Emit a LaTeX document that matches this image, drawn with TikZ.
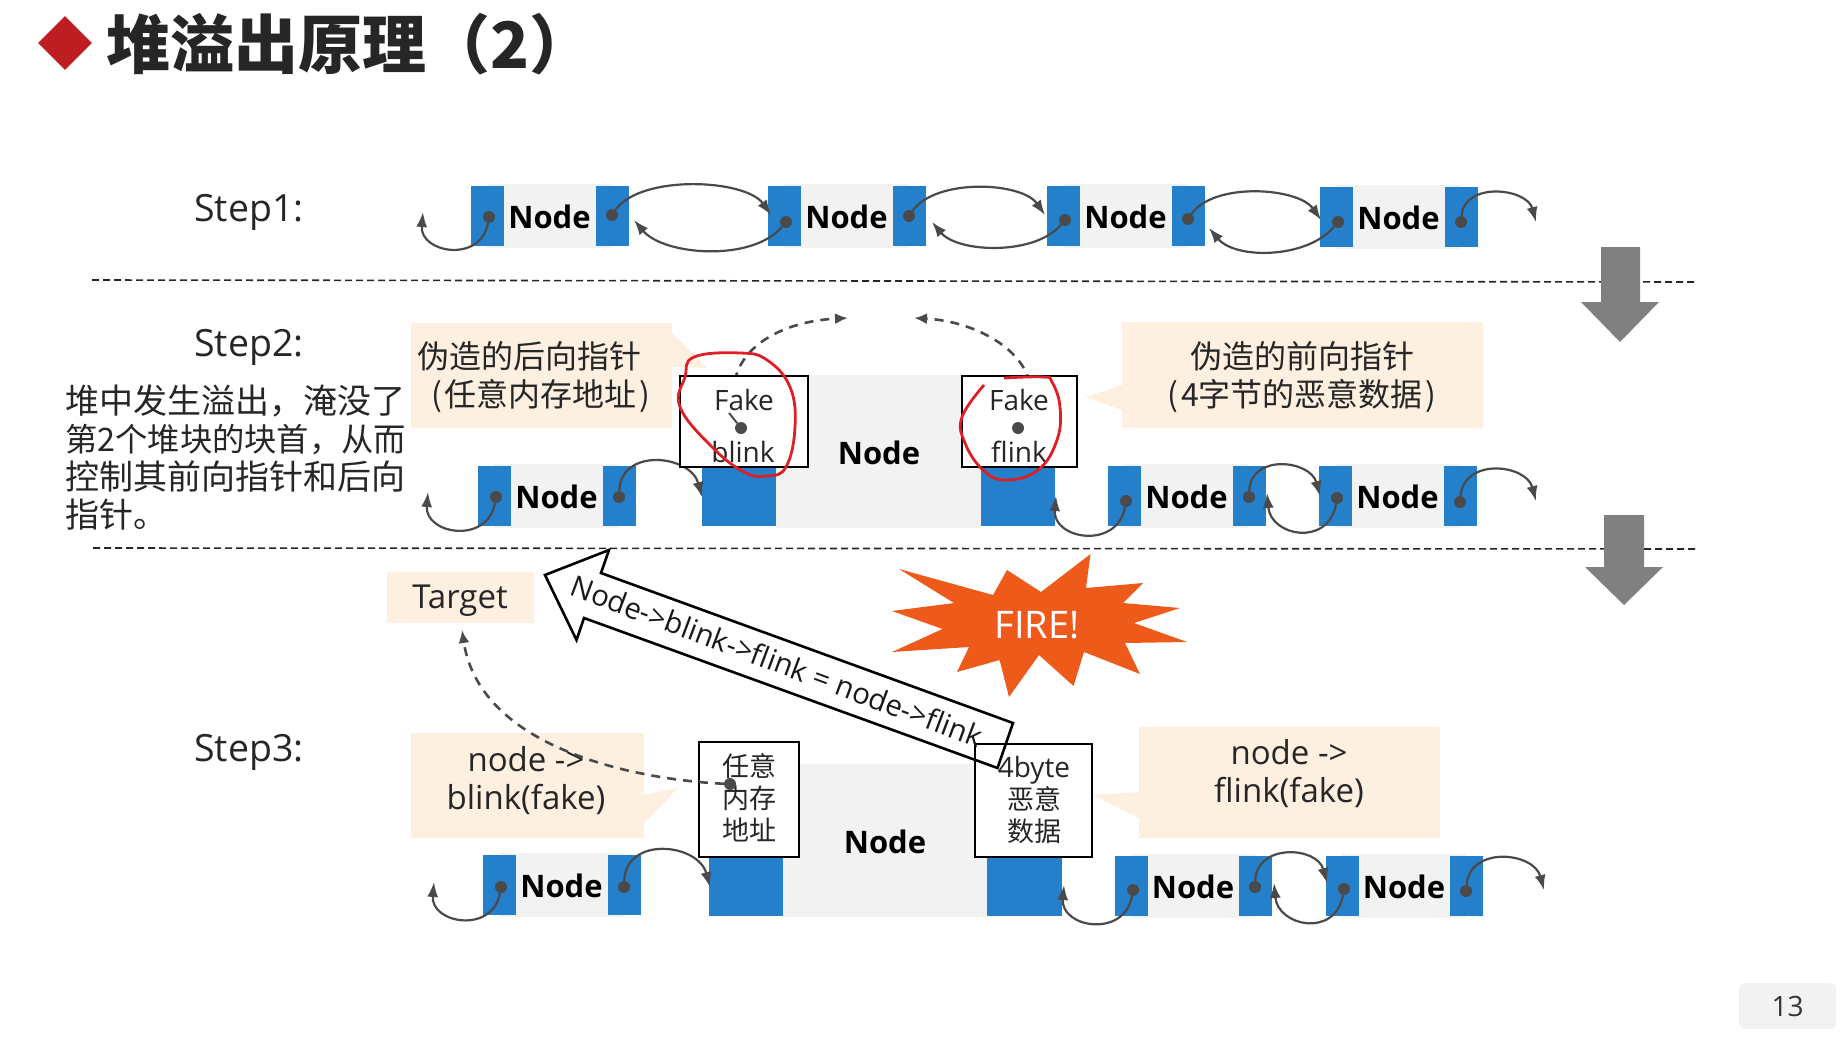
\documentclass[tikz,border=0pt]{standalone}
\usepackage{fontspec}
\setmainfont{Open Sans}
\newfontfamily\cjk{Noto Sans CJK SC}
\usepackage{xcolor}
\definecolor{linkblue}{HTML}{2480CB}
\definecolor{bodygrey}{HTML}{F2F2F2}
\definecolor{peach}{HTML}{FDF0E1}
\definecolor{inkgrey}{HTML}{4A4A4A}
\definecolor{markred}{HTML}{DC2026}
\definecolor{firered}{HTML}{EE5A19}
\definecolor{titlered}{HTML}{BE1E22}
\newcommand{\fsize}[2]{\fontsize{#1}{#2}\selectfont}
\usetikzlibrary{positioning,arrows.meta,shapes.geometric,calc}

\begin{document}
\begin{tikzpicture}[x=1pt,y=-1pt,
    bodyblock/.style={fill=bodygrey, draw=none, inner sep=0pt, minimum height=64pt},
    blueblock/.style={fill=linkblue, draw=none, inner sep=0pt, minimum height=60pt, minimum width=33pt},
    nodelabel/.style={font=\fsize{31}{36}\bfseries, text=black, inner sep=0pt},
    dotnode/.style={circle, fill=inkgrey, inner sep=0pt, minimum size=12pt},
    linkarrow/.style={draw=inkgrey, line width=2.2pt, -{Latex[length=15pt,width=11pt]}},
    fakearrow/.style={draw=inkgrey, line width=2.6pt, dash pattern=on 9pt off 7pt, -{Latex[length=13pt,width=11pt]}},
    sepline/.style={draw=black!85, line width=1.6pt, dash pattern=on 7pt off 4pt},
    downarrow/.style={fill=black!50, draw=none},
    whitebox/.style={draw=black, line width=2.4pt, fill=white, inner sep=0pt},
    callout/.style={fill=peach, draw=none},
    plaintext/.style={font=\fsize{33}{38}, text=black!85, inner sep=0pt, align=center},
    cjktext/.style={font=\cjk\fsize{32}{38}, text=black!85, inner sep=0pt, align=center},
    boxtext/.style={font=\cjk\fsize{27}{32}, text=black!85, inner sep=0pt, align=center},
    steplabel/.style={font=\fsize{37.5}{42}, text=black!85, inner sep=0pt},
    redmark/.style={draw=markred, line width=2.8pt}]
  \useasboundingbox (0,0) rectangle (1844,1036);
  % Title
  \node[diamond, fill=titlered, minimum width=54pt, minimum height=54pt, inner sep=0pt] (titlemark) at (65,43) {};
  \node[font=\cjk\fsize{64}{70}\bfseries, text=black!85, inner sep=0pt, anchor=west] (title) at (106,44) {堆溢出原理（2）};
  % Separators and step arrows
  \coordinate (sepa1) at (92,280);
  \coordinate (sepa2) at (1697,282);
  \coordinate (sepb1) at (93,548);
  \coordinate (sepb2) at (1698,549);
  \draw[sepline] (sepa1) -- (sepa2);
  \draw[sepline] (sepb1) -- (sepb2);
  \fill[downarrow] (1601,247) -- (1640,247) -- (1640,302) -- (1659,302) -- (1620,342) -- (1581,302) -- (1601,302) -- cycle;
  \fill[downarrow] (1604,515) -- (1644,515) -- (1644,567) -- (1663,567) -- (1624,605) -- (1585,567) -- (1604,567) -- cycle;
  % Step labels
  \node[steplabel, anchor=west] (step1) at (194,212) {Step1:};
  \node[steplabel, anchor=west] (step2) at (194,347) {Step2:};
  \node[steplabel, anchor=west] (step3) at (194,752) {Step3:};
  \node[cjktext, anchor=north west, align=left, font=\cjk\fsize{34}{38}] (overflowtext) at (65,385)
    {堆中发生溢出，淹没了\\{\fsize{32.3}{38}第2个堆块的块首，从而}\\控制其前向指针和后向\\指针。};
  % Small list nodes
  \foreach \nm/\lx/\rx/\yy/\ly/\ry in {
      n1/487/612/216/217/215, n2/784/909/216/222/216, n3/1063/1188/216/220/219, n4/1336/1461/217/222/222,
      n5/494/619/496/497/497, n6/1124/1249/496/501/497, n7/1335/1460/496/498/502,
      n8/499/624/885/887/887, n9/1131/1255/886/890/887, n10/1342/1466/886/889/891} {
    \node[bodyblock, minimum width=\rx-\lx] (\nm body) at ({(\lx+\rx)/2},\yy) {};
    \node[blueblock] (\nm left) at (\lx,\yy) {};
    \node[blueblock] (\nm right) at (\rx,\yy) {};
    \node[nodelabel] (\nm label) at ({(\lx+\rx)/2},{\yy+1}) {Node};
    \node[dotnode] (\nm l) at ({\lx+2},\ly) {};
    \node[dotnode] (\nm r) at ({\rx},\ry) {};
  }
  % Step 2 and 3 large nodes
  \fill[bodygrey] (776,375) rectangle (981,528);
  \fill[linkblue] (702,375) rectangle (776,526);
  \fill[linkblue] (981,375) rectangle (1055,526);
  \fill[bodygrey] (783,764) rectangle (987,917);
  \fill[linkblue] (709,764) rectangle (783,916);
  \fill[linkblue] (987,764) rectangle (1062,916);
  \node[nodelabel] (bigtwo) at (879,453) {Node};
  \node[nodelabel] (bigthree) at (885,842) {Node};
  % Pointer ends
  \foreach \nm/\xx/\yy in {
      t1/423/212, t12/771/215, t21/634/220, t23/1045/215, t32/932/222, t34/1321/220, t43/1209/228, t4/1536/222,
      t5/428/492, t56/702/497, t65/1056/496, t67/1320/496, t76/1267/493, t7/1536/501,
      t8/434/882, t89/710/887, t98/1064/885, t910/1327/883, t109/1274/883, t10/1544/890,
      tfwd/848/318, tbwd/914/318, ttarget/462/630, bstub/729/413} {
    \coordinate (\nm) at (\xx,\yy);
  }
  \foreach \from/\to/\o/\i/\l in {
      n1l/t1/-100/-95/1.6, n1r/t12/55/125/.72, n2l/t21/-130/-50/.8, n2r/t23/55/125/.78, n3l/t32/-130/-50/.8,
      n3r/t34/55/125/.78, n4l/t43/-130/-50/.85, n4r/t4/85/105/1.2,
      n5l/t5/-100/-95/1.6, n5r/t56/88/105/1.35, n6l/t65/-100/-95/1.6, n6r/t67/88/105/1.35, n7l/t76/-100/-85/1.6, n7r/t7/85/105/1.3,
      n8l/t8/-100/-95/1.6, n8r/t89/88/105/1.35, n9l/t98/-100/-95/1.6, n9r/t910/88/105/1.35, n10l/t109/-100/-85/1.6, n10r/t10/85/105/1.3} {
    \draw[linkarrow] (\from) to[out=\o,in=\i,looseness=\l] (\to);
  }
  % Step 2 fake pointers
  \node[dotnode, opacity=0] (blinkdot) at (741,428) {};
  \node[dotnode, opacity=0] (flinkdot) at (1018,428) {};
  \draw[fakearrow] (blinkdot.center) .. controls (712,360) and (770,322) .. (tfwd);
  \draw[fakearrow] (flinkdot.center) .. controls (1060,370) and (990,322) .. (tbwd);
  \node[whitebox, minimum width=128pt, minimum height=91pt] (fakeblink) at (744,421.5) {};
  \node[whitebox, minimum width=115pt, minimum height=91pt] (fakeflink) at (1019.5,421.5) {};
  \node[plaintext, font=\fsize{28}{32}] (blinktop) at (744,400) {Fake};
  \node[plaintext, font=\fsize{28}{32}] (blinkname) at (743,452) {blink};
  \node[plaintext, font=\fsize{28}{32}] (flinktop) at (1019,400) {Fake};
  \node[plaintext, font=\fsize{28}{32}] (flinkname) at (1019,452) {flink};
  \node[dotnode] (blinkmark) at (741,428) {};
  \node[dotnode] (flinkmark) at (1018,428) {};
  \draw[draw=inkgrey, line width=2pt] (blinkmark) -- (bstub);
  % Step 2 callouts
  \fill[callout] (411,323) -- (672,323) -- (672,333) -- (707,368) -- (672,367) -- (672,428) -- (411,428) -- cycle;
  \fill[callout] (1122,322) -- (1483,322) -- (1483,428) -- (1122,428) -- (1122,410) -- (1085,397) -- (1122,385) -- cycle;
  \node[cjktext] (blinktext) at (541,377) {\hspace*{-24pt}伪造的后向指针\\(\hspace{3pt}任意内存地址\hspace{3pt})};
  \node[cjktext] (flinktext) at (1302,377) {伪造的前向指针\\(\hspace{3pt}4字节的恶意数据\hspace{3pt})};
  % Hand-drawn marks
  \draw[redmark] plot[smooth cycle, tension=.7] coordinates {(694,357) (740,353) (767,360) (790,387) (795,427) (786,467) (767,476) (744,472) (712,447) (680,407) (685,377)};
  \draw[redmark] plot[smooth, tension=.7] coordinates {(984,385) (962,417) (965,443) (983,470) (1006,480) (1038,470) (1057,440) (1060,407) (1052,382) (1043,377) (1004,378)};
  % Step 3 boxes
  \node[whitebox, minimum width=100pt, minimum height=115pt] (anybox) at (749,799.5) {};
  \node[whitebox, minimum width=117pt, minimum height=113pt] (byteboxes) at (1033.5,800.5) {};
  \node[boxtext] (anytext) at (749,798) {任意\\内存\\地址};
  \node[boxtext] (bytetext) at (1034,800) {{\fsize{28}{32}\normalfont 4byte}\\恶意\\数据};
  % Step 3 callouts
  \fill[callout] (411,733) -- (644,733) -- (644,795) -- (678,788) -- (644,823) -- (644,838) -- (411,838) -- cycle;
  \fill[callout] (1139,727) -- (1440,727) -- (1440,838) -- (1139,838) -- (1139,818) -- (1093,795) -- (1139,792) -- cycle;
  \node[plaintext] (blinkcall) at (526,781) {node ->\\blink(fake)};
  \node[plaintext] (flinkcall) at (1289,774) {node ->\\flink(fake)};
  % Target
  \node[fill=peach, minimum width=147pt, minimum height=51pt, inner sep=0pt, plaintext] (target) at (460.5,597.5) {};
  \node[plaintext] (targettext) at (460,601) {Target};
  \node[dotnode] (anydot) at (730,784) {};
  \draw[fakearrow] (anydot) .. controls (640,780) and (480,750) .. (ttarget);
  % Write arrow
  \draw[draw=black, line width=2.6pt, line join=miter] (545,575) -- (609,550) -- (601,573) -- (1013,723) -- (997.5,768) -- (584,618) -- (576.5,640) -- cycle;
  \node[font=\fsize{29.3}{30}, text=black!90, rotate=-20.5, inner sep=0pt] (writetext) at (777,661) {Node->blink->flink = node->flink};
  % Fire
  \fill[firered] (1090.5,554) -- (1086,588) -- (1143,583) -- (1123,603) -- (1180,608) -- (1134,623) -- (1187,642) -- (1125,643) -- (1140,674) -- (1084,652) -- (1073.5,686) -- (1039,655) -- (1009,697) -- (999.6,660) -- (957,672) -- (969,647) -- (892,652) -- (942.5,629) -- (892,611) -- (954,603) -- (899,569) -- (993,595) -- (1007,570) -- (1041,592) -- cycle;
  \node[font=\fsize{38}{42}, text=white, inner sep=0pt] (firetext) at (1037,625) {FIRE!};
  % Page number
  \node[fill=bodygrey, rounded corners=5pt, minimum width=97pt, minimum height=46pt, inner sep=0pt, font=\fsize{28}{32}, text=black!80] (pagenum) at (1787.5,1006) {13};
\end{tikzpicture}
\end{document}
